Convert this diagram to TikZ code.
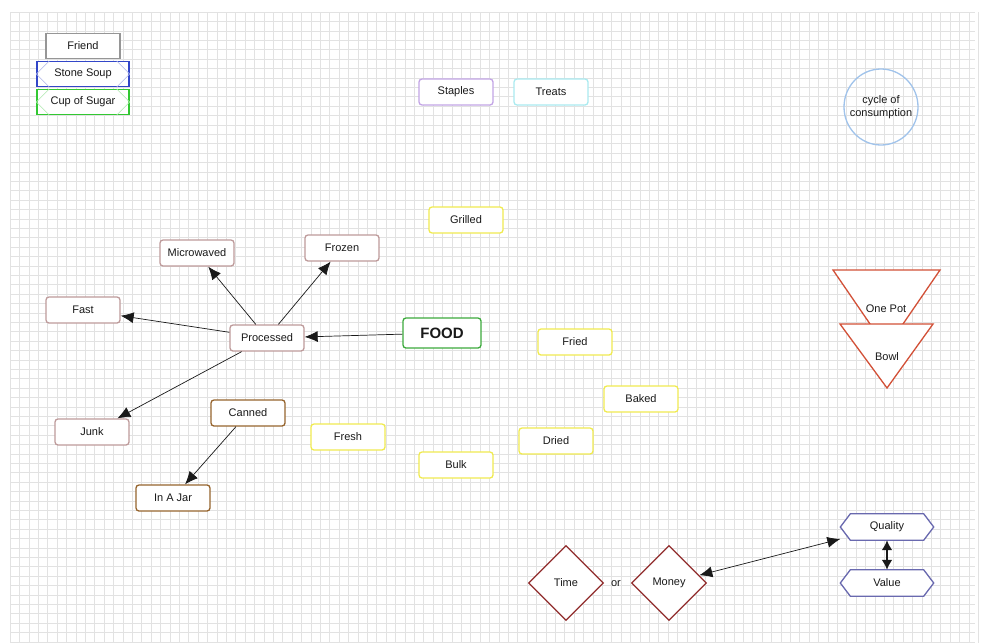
\documentclass[tikz,border=0pt]{standalone}
\usepackage{fontspec}
\setmainfont{Liberation Sans}
\usetikzlibrary{shapes.geometric,arrows.meta}
\definecolor{gridc}{RGB}{226,226,226}
\definecolor{friendc}{RGB}{150,150,150}
\definecolor{soupc}{RGB}{50,70,200}
\definecolor{sugarc}{RGB}{50,200,50}
\definecolor{staplec}{RGB}{195,165,230}
\definecolor{treatc}{RGB}{170,235,240}
\definecolor{cyclec}{RGB}{160,195,235}
\definecolor{yelc}{RGB}{240,235,80}
\definecolor{rosec}{RGB}{190,155,155}
\definecolor{foodc}{RGB}{60,170,60}
\definecolor{brownc}{RGB}{150,100,45}
\definecolor{tric}{RGB}{210,80,55}
\definecolor{diac}{RGB}{145,45,45}
\definecolor{hexc}{RGB}{105,105,175}
\tikzset{
  every node/.style={font=\fontsize{11}{13}\selectfont, text=black!90},
  box/.style={draw, rounded corners=3pt, minimum width=74pt, minimum height=26pt, line width=1.3pt, fill=white, inner sep=0pt},
  sq/.style={draw, minimum width=92pt, minimum height=25pt, line width=1.3pt, fill=white, inner sep=0pt},
  yel/.style={box, draw=yelc},
  rose/.style={box, draw=rosec},
  brn/.style={box, draw=brownc},
  dia/.style={diamond, draw=diac, line width=1.3pt, minimum width=75pt, minimum height=75pt, inner sep=0pt, fill=white},
  hexn/.style={minimum width=93pt, minimum height=26pt, inner sep=0pt},
  hexline/.style={draw=hexc, line width=1.3pt, fill=white},
  tri/.style={draw=tric, line width=1.3pt, fill=white, line join=miter},
  arr/.style={-{Latex[length=13pt,width=11pt]}, line width=0.7pt, black!90},
  darr/.style={{Latex[length=13pt,width=11pt]}-{Latex[length=13pt,width=11pt]}, line width=0.7pt, black!90},
}
\begin{document}
\begin{tikzpicture}[x=1pt,y=-1pt]
\useasboundingbox (0,0) rectangle (981,643);
\fill[white] (0,0) rectangle (981,643);
% grid
\foreach \i in {0,...,103} {\draw[gridc, line width=0.5pt] ({10+9.4*\i},12) -- ({10+9.4*\i},643);}
\foreach \j in {0,...,67} {\draw[gridc, line width=0.5pt] (10,{12+9.4*\j}) -- (975,{12+9.4*\j});}

% legend
\node[sq, draw=friendc, minimum width=74pt, minimum height=25pt] (friend) at (83,46) {Friend};
\node[sq, draw=soupc] (soup) at (83,74) {Stone Soup};
\draw[soupc!40, line width=0.6pt] ([xshift=13pt]soup.north west) -- (soup.west) -- ([xshift=13pt]soup.south west);
\draw[soupc!40, line width=0.6pt] ([xshift=-13pt]soup.north east) -- (soup.east) -- ([xshift=-13pt]soup.south east);
\node[sq, draw=sugarc] (sugar) at (83,102) {Cup of Sugar};
\draw[sugarc!40, line width=0.6pt] ([xshift=13pt]sugar.north west) -- (sugar.west) -- ([xshift=13pt]sugar.south west);
\draw[sugarc!40, line width=0.6pt] ([xshift=-13pt]sugar.north east) -- (sugar.east) -- ([xshift=-13pt]sugar.south east);

\node[box, draw=staplec] (staples) at (456,92) {Staples};
\node[box, draw=treatc] (treats) at (551,92) {Treats};
\node[align=center, inner sep=0pt] (cycle) at (881,107) {cycle of\\consumption};
\draw[cyclec, line width=1.3pt] (cycle.center) ellipse (37pt and 38pt);

% food web
\node[yel] (grilled) at (466,220) {Grilled};
\node[rose] (frozen) at (342,248) {Frozen};
\node[rose] (micro) at (197,253) {Microwaved};
\node[rose] (fast) at (83,310) {Fast};
\node[rose] (proc) at (267,338) {Processed};
\node[box, draw=foodc, minimum width=78pt, minimum height=30pt, font=\fontsize{15}{17}\selectfont\bfseries] (food) at (442,333) {FOOD};
\node[yel] (fried) at (575,342) {Fried};
\node[yel] (baked) at (641,399) {Baked};
\node[rose] (junk) at (92,432) {Junk};
\node[brn] (canned) at (248,413) {Canned};
\node[yel] (fresh) at (348,437) {Fresh};
\node[yel] (dried) at (556,441) {Dried};
\node[yel] (bulk) at (456,465) {Bulk};
\node[brn] (jar) at (173,498) {In A Jar};

\draw[arr] (food) -- (proc);
\draw[arr] (proc) -- (fast);
\draw[arr] (proc) -- (micro);
\draw[arr] (proc) -- (frozen);
\draw[arr] (proc) -- (junk);
\draw[arr] (canned) -- (jar);

% triangles
\draw[tri] (833,270) -- (940,270) -- (886.5,348) -- cycle;
\node (onepot) at (886,309) {One Pot};
\draw[tri] (840,324) -- (933,324) -- (887,388) -- cycle;
\node (bowl) at (887,357) {Bowl};

% diamonds
\node[dia] (time) at (566,583) {Time};
\node (or) at (616,584) {or};
\node[dia] (money) at (669,583) {Money};

% hexagons
\node[hexn] (quality) at (887,527) {};
\draw[hexline] ([xshift=10pt]quality.north west) -- ([xshift=-10pt]quality.north east) -- (quality.east) -- ([xshift=-10pt]quality.south east) -- ([xshift=10pt]quality.south west) -- (quality.west) -- cycle;
\node at (quality) {Quality};
\node[hexn] (value) at (887,583) {};
\draw[hexline] ([xshift=10pt]value.north west) -- ([xshift=-10pt]value.north east) -- (value.east) -- ([xshift=-10pt]value.south east) -- ([xshift=10pt]value.south west) -- (value.west) -- cycle;
\node at (value) {Value};

\draw[darr] (money) -- (quality);
\draw[{Latex[length=10pt,width=11pt]}-{Latex[length=10pt,width=11pt]}, line width=2pt, black!90] (quality) -- (value);
\end{tikzpicture}
\end{document}
